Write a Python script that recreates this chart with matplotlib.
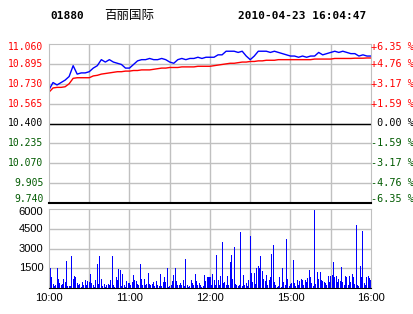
import numpy as np
import matplotlib
matplotlib.use('Agg')
import matplotlib.pyplot as plt
import matplotlib.transforms as mtransforms

# ---- data ----
code = '01880'
name = '百丽国际'
stamp = '2010-04-23 16:04:47'
prev_close = 10.400

price_ticks = [11.060, 10.895, 10.730, 10.565, 10.400, 10.235, 10.070, 9.905, 9.740]
pct_labels = ['+6.35 %', '+4.76 %', '+3.17 %', '+1.59 %', ' 0.00 %',
              '-1.59 %', '-3.17 %', '-4.76 %', '-6.35 %']
vol_ticks = [1500, 3000, 4500, 6000]
time_labels = ['10:00', '11:00', '12:00', '15:00', '16:00']
time_label_pos = [0, 60, 120, 180, 240]   # trading minutes (lunch break removed)

# last price every 3 trading minutes
price = [10.68, 10.74, 10.72, 10.74, 10.76, 10.79, 10.88, 10.81, 10.82, 10.82,
         10.83, 10.86, 10.88, 10.93, 10.91, 10.93, 10.91, 10.90, 10.89, 10.86,
         10.86, 10.89, 10.92, 10.93, 10.93, 10.94, 10.93, 10.93, 10.94, 10.93,
         10.91, 10.90, 10.93, 10.94, 10.93, 10.94, 10.94, 10.95, 10.94, 10.95,
         10.95, 10.95, 10.97, 10.97, 11.00, 11.00, 11.00, 10.99, 11.00, 10.96,
         10.93, 10.96, 11.00, 11.00, 11.00, 10.99, 11.00, 10.99, 10.98, 10.97,
         10.96, 10.96, 10.95, 10.96, 10.95, 10.96, 10.96, 10.99, 10.97, 10.98,
         10.99, 11.00, 10.99, 11.00, 10.99, 10.98, 10.98, 10.96, 10.97, 10.96,
         10.96]

# average price every 3 trading minutes
avg_price = [10.660, 10.695, 10.700, 10.700, 10.705, 10.730, 10.775, 10.780, 10.780, 10.780,
             10.780, 10.795, 10.800, 10.810, 10.815, 10.820, 10.825, 10.830, 10.830, 10.835,
             10.835, 10.840, 10.840, 10.845, 10.845, 10.845, 10.850, 10.855, 10.860, 10.860,
             10.865, 10.865, 10.865, 10.870, 10.870, 10.870, 10.870, 10.875, 10.875, 10.875,
             10.875, 10.880, 10.885, 10.890, 10.895, 10.900, 10.900, 10.905, 10.910, 10.910,
             10.915, 10.915, 10.920, 10.920, 10.925, 10.925, 10.925, 10.930, 10.930, 10.930,
             10.930, 10.930, 10.930, 10.930, 10.930, 10.930, 10.935, 10.935, 10.935, 10.935,
             10.935, 10.940, 10.940, 10.940, 10.940, 10.940, 10.942, 10.942, 10.942, 10.944,
             10.944]

# volume per trading minute
volume = [700, 1550, 800, 300, 150, 250, 1500, 700, 380, 200,
          300, 700, 450, 2030, 180, 150, 180, 2410, 700, 920,
          870, 380, 250, 300, 100, 450, 200, 630, 250, 540,
          450, 1070, 380, 250, 100, 630, 1800, 300, 2410, 700,
          150, 300, 100, 250, 300, 250, 600, 2440, 250, 100,
          800, 600, 1420, 1350, 180, 1070, 250, 100, 540, 380,
          380, 250, 450, 1000, 630, 540, 300, 200, 1850, 700,
          200, 700, 200, 300, 1150, 300, 200, 300, 450, 150,
          540, 200, 150, 1070, 150, 450, 800, 450, 1550, 100,
          150, 200, 540, 960, 1550, 540, 200, 200, 380, 200,
          630, 150, 2240, 200, 100, 150, 630, 380, 200, 1070,
          540, 200, 380, 200, 100, 150, 960, 540, 800, 800,
          800, 200, 1070, 630, 200, 2540, 630, 250, 920, 3480,
          380, 450, 200, 920, 250, 1950, 2500, 700, 3100, 300,
          200, 150, 250, 4240, 150, 1000, 200, 380, 150, 630,
          3940, 1150, 450, 1150, 300, 1500, 1680, 1540, 2410, 1300,
          700, 540, 1000, 200, 630, 800, 2620, 3230, 450, 200,
          100, 150, 870, 100, 1500, 450, 200, 3690, 700, 150,
          300, 380, 2160, 380, 150, 630, 250, 540, 700, 630,
          250, 630, 450, 760, 1400, 870, 380, 150, 5900, 300,
          1230, 700, 1230, 630, 540, 450, 380, 200, 920, 450,
          920, 1000, 1980, 800, 920, 450, 700, 540, 1600, 450,
          250, 920, 800, 250, 920, 450, 1070, 870, 300, 4760,
          250, 150, 1680, 800, 4320, 380, 250, 870, 920, 760,
          600]

RED = '#ff0000'
GREEN = '#005a00'
GRID = '#c0c0c0'

fig = plt.figure(figsize=(4.14, 3.14), dpi=100)
ax = fig.add_axes([49 / 414, 1 - 203 / 314, 322 / 414, 159 / 314])
axv = fig.add_axes([49 / 414, 1 - 288 / 314, 322 / 414, 79 / 314])

t3 = np.arange(0, 241, 3)
t1 = np.arange(len(volume))

# ---- price panel ----
ax.set_xlim(0, 240)
ax.set_ylim(price_ticks[-1], price_ticks[0])
for y in price_ticks[1:-1]:
    ax.axhline(y, color=GRID, lw=1, zorder=0)
for x in range(30, 240, 30):
    ax.axvline(x, color=GRID, lw=1, zorder=0)
ax.axhline(prev_close, color='black', lw=1, zorder=1)
ax.plot(t3, avg_price, color=RED, lw=1)
ax.plot(t3, price, color='#0000ff', lw=1)
ax.set_xticks([])
ax.set_yticks([])
for side in ['top', 'left', 'right']:
    ax.spines[side].set_color(GRID)
ax.spines['bottom'].set_color('black')
ax.spines['bottom'].set_linewidth(1.5)

trans_l = mtransforms.blended_transform_factory(ax.transAxes, ax.transData)
n = len(price_ticks)
for i, (p, lab) in enumerate(zip(price_ticks, pct_labels)):
    if p > prev_close:
        c = RED
    elif p < prev_close:
        c = GREEN
    else:
        c = 'black'
    dy = 0
    if i == 0:
        dy = -2.5
    elif i == n - 1:
        dy = 3
    tl = mtransforms.offset_copy(trans_l, fig=fig, x=-4, y=dy, units='points')
    ax.text(0, p, '%.3f' % p, transform=tl, ha='right', va='center',
            color=c, family='DejaVu Sans Mono', fontsize=7)
    tr = mtransforms.offset_copy(trans_l, fig=fig, x=0, y=dy, units='points')
    ax.text(1, p, lab, transform=tr, ha='left', va='center',
            color=c, family='DejaVu Sans Mono', fontsize=7.3)

# ---- volume panel ----
axv.set_xlim(0, 240)
axv.set_ylim(0, 6000)
for y in vol_ticks[:-1]:
    axv.axhline(y, color=GRID, lw=1, zorder=0)
for x in range(30, 240, 30):
    axv.axvline(x, color=GRID, lw=1, zorder=0)
axv.bar(t1, volume, width=0.75, color='#0000ff', linewidth=0, antialiased=False)
axv.set_yticks([])
axv.set_xticks([])
for side in ['top', 'left', 'right']:
    axv.spines[side].set_color(GRID)
axv.spines['bottom'].set_color('black')

trans_v = mtransforms.blended_transform_factory(axv.transAxes, axv.transData)
for v in vol_ticks:
    dy = -2.5 if v == vol_ticks[-1] else 0
    tv = mtransforms.offset_copy(trans_v, fig=fig, x=-4, y=dy, units='points')
    axv.text(0, v, str(v), transform=tv, ha='right', va='center',
             color='black', family='Liberation Sans', fontsize=8)

trans_t = mtransforms.blended_transform_factory(axv.transData, fig.transFigure)
for pos, lab in zip(time_label_pos, time_labels):
    axv.text(pos, 1 - 298 / 314, lab, transform=trans_t, ha='center', va='center',
             family='Liberation Sans', fontsize=8)

# ---- header ----
fig.text(50 / 414, 1 - 16 / 314, code, ha='left', va='center',
         family='DejaVu Sans Mono', fontweight='bold', fontsize=8)
fig.text(104 / 414, 1 - 16 / 314, name, ha='left', va='center',
         family=['Noto Sans CJK SC', 'DejaVu Sans'], fontsize=9)
fig.text(238 / 414, 1 - 16 / 314, stamp, ha='left', va='center',
         family='DejaVu Sans Mono', fontweight='bold', fontsize=8)

fig.savefig('out.png', dpi=100, facecolor='white')
